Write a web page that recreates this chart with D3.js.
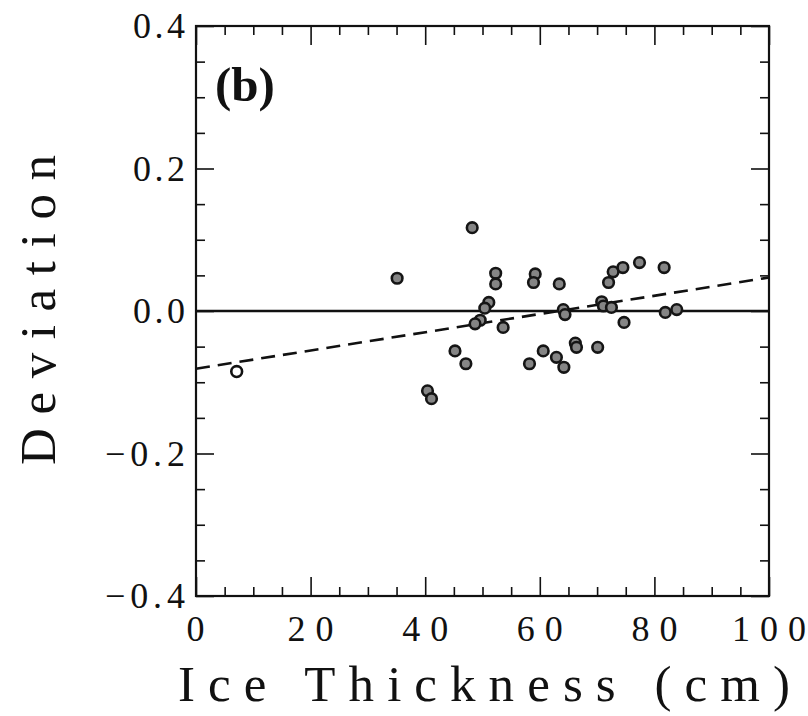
<!DOCTYPE html>
<html><head><meta charset="utf-8">
<script src="https://cdn.jsdelivr.net/npm/d3@7"></script>
<style>body{margin:0;background:#fff}</style>
</head><body><svg id="c" width="808" height="716"></svg>
<script>
// ---- data ----
const thickness = [48.2,35.1,52.3,52.3,59.2,58.9,63.4,51.1,50.4,49.6,48.7,53.6,64.1,64.4,45.2,47.1,40.4,41.1,58.2,60.6,62.9,64.2,66.2,66.4,70.1,72.0,72.8,74.5,77.4,81.7,70.8,71.1,72.5,74.7,81.9,83.9];
const deviation = [0.117,0.046,0.053,0.038,0.052,0.040,0.038,0.012,0.004,-0.013,-0.018,-0.023,0.002,-0.005,-0.056,-0.074,-0.112,-0.123,-0.074,-0.056,-0.065,-0.079,-0.045,-0.051,-0.051,0.040,0.055,0.061,0.068,0.061,0.013,0.007,0.005,-0.016,-0.002,0.002];
const openThickness = [7.1];
const openDeviation = [-0.085];
const zeroX = [0,100], zeroY = [0,0];
const fitX = [0,100], fitY = [-0.081,0.047];
const xTicks = [0,20,40,60,80,100];
const xTickLabels = ["0","20","40","60","80","100"];
const yTicks = [0.4,0.2,0,-0.2,-0.4];
const yTickLabels = ["0.4","0.2","0.0","\u22120.2","\u22120.4"];
const xTitle = "Ice Thickness (cm)";
const yTitle = "Deviation";
const panelLabel = "(b)";

// ---- layout ----
const L=196, R=769, T=26, B=596;
const svg = d3.select("#c");
const x = d3.scaleLinear().domain([0,100]).range([L,R]);
const y = d3.scaleLinear().domain([-0.4,0.4]).range([B,T]);
const font = "'Liberation Serif','Times New Roman',serif";

const xMinor = d3.range(0,100.001,5).filter(v=>v%20!==0);
const yMinor = d3.range(-8,9,1).filter(k=>k%4!==0).map(k=>k*0.05);

function styleAxis(g){ g.select(".domain").remove(); g.selectAll("line").attr("stroke","#111").attr("stroke-width",1.6); g.selectAll("text").remove(); }
svg.append("g").attr("transform",`translate(0,${B})`).call(d3.axisBottom(x).tickValues(xTicks).tickSize(-19)).call(styleAxis);
svg.append("g").attr("transform",`translate(0,${B})`).call(d3.axisBottom(x).tickValues(xMinor).tickSize(-9)).call(styleAxis);
svg.append("g").attr("transform",`translate(0,${T})`).call(d3.axisTop(x).tickValues(xTicks).tickSize(-19)).call(styleAxis);
svg.append("g").attr("transform",`translate(0,${T})`).call(d3.axisTop(x).tickValues(xMinor).tickSize(-9)).call(styleAxis);
svg.append("g").attr("transform",`translate(${L},0)`).call(d3.axisLeft(y).tickValues(yTicks).tickSize(-18)).call(styleAxis);
svg.append("g").attr("transform",`translate(${L},0)`).call(d3.axisLeft(y).tickValues(yMinor).tickSize(-9)).call(styleAxis);
svg.append("g").attr("transform",`translate(${R},0)`).call(d3.axisRight(y).tickValues(yTicks).tickSize(-18)).call(styleAxis);
svg.append("g").attr("transform",`translate(${R},0)`).call(d3.axisRight(y).tickValues(yMinor).tickSize(-9)).call(styleAxis);

svg.append("rect").attr("x",L).attr("y",T).attr("width",R-L).attr("height",B-T)
  .attr("fill","none").attr("stroke","#111").attr("stroke-width",2.2);

// lines
const line = d3.line().x(d=>x(d[0])).y(d=>y(d[1]));
svg.append("path").attr("d",line(d3.zip(zeroX,zeroY))).attr("stroke","#111").attr("stroke-width",2.6).attr("fill","none");
svg.append("path").attr("d",line(d3.zip(fitX,fitY))).attr("stroke","#111").attr("stroke-width",2.6).attr("fill","none").attr("stroke-dasharray","14,8");

// points
svg.append("g").selectAll("circle").data(d3.zip(thickness,deviation)).join("circle")
  .attr("cx",d=>x(d[0])).attr("cy",d=>y(d[1])).attr("r",5.3)
  .attr("fill","#858585").attr("stroke","#151515").attr("stroke-width",2.6);
svg.append("g").selectAll("circle").data(d3.zip(openThickness,openDeviation)).join("circle")
  .attr("cx",d=>x(d[0])).attr("cy",d=>y(d[1])).attr("r",5.4)
  .attr("fill","#fff").attr("stroke","#111").attr("stroke-width",2.6);

// tick labels
function spaced(sel, len){ sel.attr("textLength",len).attr("lengthAdjust","spacing"); }
const xLabW = s => s.length===1?19:(s.length===2?46:74);
xTicks.forEach((v,i)=>{
  const s = xTickLabels[i], w = xLabW(s);
  svg.append("text").attr("x",x(v)-w/2).attr("y",641).text(s)
    .attr("font-family",font).attr("font-size",36).attr("fill","#111").call(spaced,w);
});
yTicks.forEach((v,i)=>{
  const s = yTickLabels[i], w = s.length===3?52:80;
  svg.append("text").attr("x",185-w).attr("y",y(v)+12).text(s)
    .attr("font-family",font).attr("font-size",36).attr("fill","#111").call(spaced,w);
});

// titles
svg.append("text").attr("x",178).attr("y",701).text(xTitle)
  .attr("font-family",font).attr("font-size",51).attr("fill","#111").call(spaced,612);
svg.append("text").attr("transform","translate(55,465) rotate(-90)").attr("x",0).attr("y",0).text(yTitle)
  .attr("font-family",font).attr("font-size",51).attr("fill","#111").call(spaced,310);
svg.append("text").attr("x",215).attr("y",101).text(panelLabel)
  .attr("font-family",font).attr("font-size",49).attr("font-weight","bold").attr("fill","#111");
</script></body></html>
